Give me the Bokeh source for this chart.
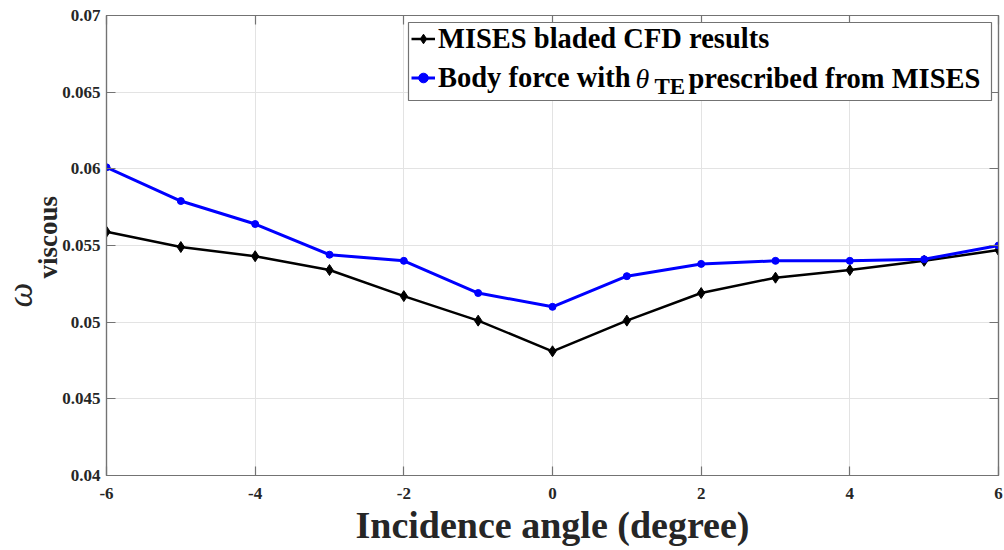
from bokeh.plotting import figure
from bokeh.models import (Range1d, LinearAxis, FixedTicker, Label, BoxAnnotation,
                          Legend, LegendItem, Title)
from bokeh.embed import file_html
from bokeh.resources import INLINE

# ---------------- data ----------------
incidence = [-6, -5, -4, -3, -2, -1, 0, 1, 2, 3, 4, 5, 6]
mises_bladed = [0.0559, 0.0549, 0.0543, 0.0534, 0.0517, 0.0501, 0.0481,
                0.0501, 0.0519, 0.0529, 0.0534, 0.0540, 0.0547]
body_force = [0.0601, 0.0579, 0.0564, 0.0544, 0.0540, 0.0519, 0.0510,
              0.0530, 0.0538, 0.0540, 0.0540, 0.0541, 0.0550]
x_ticks = [-6, -4, -2, 0, 2, 4, 6]
x_tick_labels = ["-6", "-4", "-2", "0", "2", "4", "6"]
y_ticks = [0.04, 0.045, 0.05, 0.055, 0.06, 0.065, 0.07]
y_tick_labels = ["0.04", "0.045", "0.05", "0.055", "0.06", "0.065", "0.07"]
x_label = "Incidence angle (degree)"
y_symbol = "\u03c9"
y_subscript = "viscous"
legend_1 = "MISES bladed CFD results"
legend_2a = "Body force with"
legend_2_sym = "\u03b8"
legend_2_sub = "TE"
legend_2b = "prescribed from MISES"

SERIF = "Liberation Serif"
AX = "#737373"
TXT = "#262626"

p = figure(width=1004, height=550, output_backend="svg", toolbar_location=None,
           x_range=Range1d(-6, 6), y_range=Range1d(0.04, 0.07),
           min_border_left=105, min_border_right=6, min_border_top=15,
           min_border_bottom=75, x_axis_location=None, y_axis_location=None)
p.outline_line_color = AX
p.outline_line_width = 1.2
p.background_fill_color = "white"
p.border_fill_color = "white"

def style_axis(ax, ticks, labels, show_labels):
    ax.ticker = FixedTicker(ticks=ticks)
    ax.axis_line_color = AX
    ax.axis_line_width = 1.2
    ax.major_tick_line_color = AX
    ax.major_tick_line_width = 1.2
    ax.major_tick_in = 9
    ax.major_tick_out = 0
    ax.minor_tick_line_color = None
    ax.major_label_text_font = SERIF
    ax.major_label_text_font_style = "bold"
    ax.major_label_text_font_size = "17px"
    ax.major_label_text_color = TXT
    if show_labels:
        ax.major_label_overrides = {t: s for t, s in zip(ticks, labels)}
    else:
        ax.major_label_overrides = {t: "" for t in ticks}
        ax.major_label_standoff = 0

xb = LinearAxis()
style_axis(xb, x_ticks, x_tick_labels, True)
xb.major_label_standoff = 12
xb.axis_label = x_label
xb.axis_label_text_font = SERIF
xb.axis_label_text_font_style = "bold"
xb.axis_label_text_font_size = "38px"
xb.axis_label_text_color = TXT
xb.axis_label_standoff = 2
p.add_layout(xb, "below")

yl = LinearAxis()
style_axis(yl, y_ticks, y_tick_labels, True)
yl.major_label_standoff = 6
p.add_layout(yl, "left")

xt = LinearAxis()
style_axis(xt, x_ticks, x_tick_labels, False)
p.add_layout(xt, "above")
yr = LinearAxis()
style_axis(yr, y_ticks, y_tick_labels, False)
p.add_layout(yr, "right")

# y-axis title: omega with bold subscript, as two side titles
t_sub = Title(text=y_subscript, align="left", offset=197, standoff=-9.6,
              vertical_align="top",
              text_font=SERIF, text_font_style="bold", text_font_size="27px",
              text_color=TXT)
p.add_layout(t_sub, "left")
t_sym = Title(text=y_symbol, align="left", offset=168, standoff=-4,
              vertical_align="bottom",
              text_font=SERIF, text_font_style="italic", text_font_size="35px",
              text_color=TXT)
p.add_layout(t_sym, "left")

p.xgrid.ticker = FixedTicker(ticks=x_ticks)
p.ygrid.ticker = FixedTicker(ticks=y_ticks)
for g in (p.xgrid, p.ygrid):
    g.grid_line_color = "#e3e3e3"
    g.grid_line_width = 1

# ---------------- series ----------------
r1l = p.line(incidence, mises_bladed, line_color="black", line_width=2.5)
r1s = p.scatter(incidence, mises_bladed, marker="diamond", size=11,
                fill_color="black", line_color="black")
r2l = p.line(incidence, body_force, line_color="#0000ff", line_width=3)
r2s = p.scatter(incidence, body_force, marker="circle", size=7,
                fill_color="#0000ff", line_color="#0000ff")

# ---------------- legend ----------------
box = BoxAnnotation(left=302, right=885, top=453, bottom=375,
                    left_units="screen", right_units="screen",
                    top_units="screen", bottom_units="screen",
                    fill_color="white", fill_alpha=1.0,
                    line_color=AX, line_width=1.2, line_alpha=1.0)
p.add_layout(box)

leg = Legend(items=[LegendItem(label=legend_1, renderers=[r1l, r1s]),
                    LegendItem(label=legend_2a, renderers=[r2l, r2s])],
             location=(305, 381), padding=0, margin=0, spacing=6,
             glyph_width=24, glyph_height=33, label_height=33,
             label_standoff=3,
             border_line_color=None, background_fill_alpha=0.0,
             label_text_font=SERIF, label_text_font_style="bold",
             label_text_font_size="28.5px", label_text_color="black",
             label_text_baseline="middle")
p.add_layout(leg)

def lab(text, x, y, size, style="bold"):
    p.add_layout(Label(x=x, y=y, x_units="screen", y_units="screen", text=text,
                       text_font=SERIF, text_font_style=style,
                       text_font_size=size, text_color="black",
                       text_align="left", text_baseline="middle"))

lab(legend_2_sym, 529, 397, "28px", style="italic")
lab(legend_2_sub, 548, 389, "23px")
lab(legend_2b, 582, 397, "28.5px")

open("out.html", "w").write(file_html(p, INLINE))
